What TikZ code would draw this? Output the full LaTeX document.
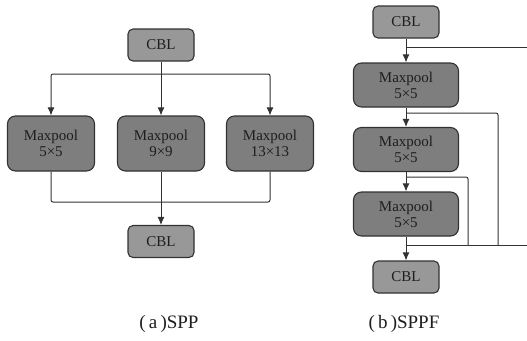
\documentclass[tikz,border=0pt]{standalone}
\usepackage{fontspec}
\setmainfont{Liberation Serif}
\usetikzlibrary{arrows.meta, positioning}
\definecolor{cblgray}{RGB}{152,152,152}
\definecolor{poolgray}{RGB}{126,126,126}
\definecolor{linegray}{RGB}{50,50,50}
\definecolor{textgray}{RGB}{30,30,30}

\begin{document}
\begin{tikzpicture}[x=1pt, y=-1pt, on grid,
                    cbl/.style= {rectangle,
                      rounded corners=5pt,
                      draw=linegray,
                      line width=1.1pt,
                      fill=cblgray,
                      text=textgray,
                      font=\fontsize{15}{16}\selectfont,
                      inner sep=0pt,
                      minimum width=66pt,
                      minimum height=32pt},
                    pool/.style= {cbl,
                      rounded corners=8pt,
                      fill=poolgray,
                      align=center,
                      minimum width=87pt,
                      minimum height=55pt},
                    longpool/.style= {pool,
                      minimum width=105pt,
                      minimum height=44pt},
                    link/.style= {draw=linegray,
                      line width=1pt,
                      rounded corners=2pt},
                    arrow/.style= {link,
                      -{Latex[length=8pt, width=7pt]}},
                    caption/.style= {text=textgray,
                      font=\fontsize{19}{21}\selectfont}]
  \useasboundingbox (0,0) rectangle (527,340);

  % (a) SPP
  \node[cbl] (cbl1) at (161,45) {CBL};
  \node[pool] (mp2) at (161,143.5) {Maxpool\\9×9};
  \node[pool] (mp1) [left=110pt of mp2] {Maxpool\\5×5};
  \node[pool] (mp3) [right=109pt of mp2] {Maxpool\\13×13};
  \node[cbl] (cbl2) at (161,241.5) {CBL};
  \node[caption] (capa) at (169,324) {(\,a\,)SPP};

  \coordinate (fork) at (161,74);
  \coordinate (join) at (161,202);
  \draw[arrow] (cbl1) -- (mp2);
  \draw[arrow] (fork) -| (mp1.north);
  \draw[arrow] (fork) -| (mp3.north);
  \draw[link] (mp1.south) |- (join);
  \draw[link] (mp3.south) |- (join);
  \draw[arrow] (mp2) -- (cbl2);

  % (b) SPPF
  \node[cbl] (sc1) at (406,22) {CBL};
  \node[longpool] (sp1) [below=63pt of sc1] {Maxpool\\5×5};
  \node[longpool] (sp2) [below=64.5pt of sp1] {Maxpool\\5×5};
  \node[longpool] (sp3) [below=64.5pt of sp2] {Maxpool\\5×5};
  \node[cbl] (sc2) [below=63pt of sp3] {CBL};
  \node[caption] (capb) at (404,324) {(\,b\,)SPPF};

  \coordinate (tap0) at (406,47);
  \coordinate (tap1) at (406,113);
  \coordinate (tap2) at (406,177);
  \coordinate (merge) at (406,245);
  \coordinate (drop1) at (498,245);
  \coordinate (drop2) at (468,245);
  \coordinate (edge0) at (527,47);
  \coordinate (edge1) at (527,245);
  \draw[arrow] (sc1) -- (sp1);
  \draw[arrow] (sp1) -- (sp2);
  \draw[arrow] (sp2) -- (sp3);
  \draw[arrow] (sp3) -- (sc2);
  \draw[link] (tap0) -- (edge0);
  \draw[link] (tap1) -| (drop1);
  \draw[link] (tap2) -| (drop2);
  \draw[link] (merge) -- (edge1);
\end{tikzpicture}
\end{document}
